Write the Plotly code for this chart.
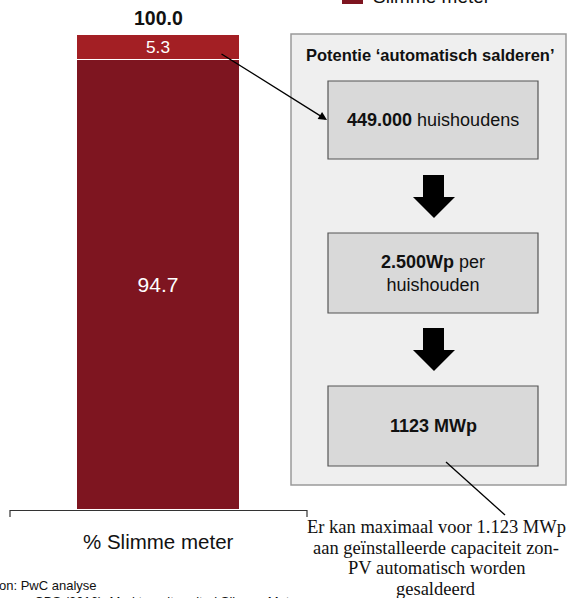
import plotly.graph_objects as go

W, H = 568, 598

# ---- data ----
categories = ["% Slimme meter"]
without_smart = [94.7]
with_smart = [5.3]
total = [100.0]
flow_steps = ["<b>449.000</b> huishoudens", "<b>2.500Wp</b> per<br>huishouden", "<b>1123 MWp</b>"]
note_lines = ["Er kan maximaal voor 1.123 MWp", "aan geïnstalleerde capaciteit zon-",
              "PV automatisch worden", "gesaldeerd"]

DARK = "#7E1520"
LIGHT = "#A31F24"
SANS = "Liberation Sans, Arial, sans-serif"
SERIF = "Liberation Serif, Times New Roman, serif"


def px(x):
    return x / W


def py(y):
    return 1 - y / H


fig = go.Figure()
fig.add_trace(go.Bar(x=categories, y=without_smart, marker=dict(color=DARK, line=dict(color="white", width=1)),
                     width=0.552, text=[f"{v:.1f}" for v in without_smart], textposition="inside",
                     insidetextanchor="middle", textfont=dict(color="white", size=21, family=SANS),
                     hoverinfo="skip", showlegend=False))
fig.add_trace(go.Bar(x=categories, y=with_smart, marker=dict(color=LIGHT, line=dict(color="white", width=1)),
                     width=0.552, text=[f"{v:.1f}" for v in with_smart], textposition="inside",
                     insidetextanchor="middle", textfont=dict(color="white", size=20, family=SANS),
                     hoverinfo="skip", showlegend=False))

shapes = []
annotations = []

# total label above the bar
for c, t in zip(categories, total):
    annotations.append(dict(xref="x", yref="y", x=c, y=t, text=f"<b>{t:.1f}</b>", showarrow=False,
                            yshift=17, font=dict(size=19.5, family=SANS, color="#111"),
                            xanchor="center", yanchor="middle"))

# axis end ticks
for xx in (10, 307):
    shapes.append(dict(type="line", xref="paper", yref="paper", x0=px(xx), x1=px(xx), y0=py(510), y1=py(517),
                       line=dict(color="#333", width=1.2)))

# category label
annotations.append(dict(xref="paper", yref="paper", x=px(158), y=py(541), text=categories[0], showarrow=False,
                        font=dict(size=20.5, family=SANS, color="#111"), xanchor="center", yanchor="middle"))

# legend (cut off at top)
shapes.append(dict(type="rect", xref="paper", yref="paper", x0=px(342), x1=px(363), y0=py(4), y1=py(-10),
                   fillcolor=DARK, line=dict(width=0)))
annotations.append(dict(xref="paper", yref="paper", x=px(371), y=py(-4), text="Slimme meter", showarrow=False,
                        font=dict(size=19, family=SANS, color="#111"), xanchor="left", yanchor="middle"))

# big panel
shapes.append(dict(type="rect", xref="paper", yref="paper", x0=px(291), x1=px(566), y0=py(485), y1=py(34),
                   fillcolor="#EFEFEF", line=dict(color="#9A9A9A", width=1.5), layer="below"))
annotations.append(dict(xref="paper", yref="paper", x=px(430), y=py(55),
                        text="<b>Potentie ‘automatisch salderen’</b>", showarrow=False,
                        font=dict(size=16.5, family=SANS, color="#111"), xanchor="center", yanchor="middle"))

# boxes
boxes = [(81, 159), (233, 313), (386, 466)]
for (y0, y1), label in zip(boxes, flow_steps):
    shapes.append(dict(type="rect", xref="paper", yref="paper", x0=px(328), x1=px(538), y0=py(y1), y1=py(y0),
                       fillcolor="#D9D9D9", line=dict(color="#555", width=1.2)))
    annotations.append(dict(xref="paper", yref="paper", x=px(433), y=py((y0 + y1) / 2), text=label,
                            showarrow=False, font=dict(size=18, family=SANS, color="#111"),
                            xanchor="center", yanchor="middle"))

# down arrows
for top in (175, 328):
    pts = [(423, top), (444, top), (444, top + 22), (455, top + 22), (434, top + 43), (413, top + 22), (423, top + 22)]
    path = "M " + " L ".join(f"{px(x):.5f},{py(y):.5f}" for x, y in pts) + " Z"
    shapes.append(dict(type="path", xref="paper", yref="paper", path=path, fillcolor="black",
                       line=dict(color="black", width=0)))

# arrow from bar to first box
annotations.append(dict(xref="paper", yref="paper", x=px(327), y=py(120), ax=220 - 327, ay=53 - 120,
                        axref="pixel", ayref="pixel", text="", showarrow=True, arrowhead=2, arrowsize=1.3,
                        arrowwidth=1.3, arrowcolor="black"))

# line from last box to note
shapes.append(dict(type="line", xref="paper", yref="paper", x0=px(446), y0=py(462), x1=px(505), y1=py(515),
                   line=dict(color="black", width=1.3)))

# note text
for i, line in enumerate(note_lines):
    annotations.append(dict(xref="paper", yref="paper", x=px(436), y=py(527 + i * 20.7), text=line,
                            showarrow=False, font=dict(size=18.5, family=SERIF, color="#111"),
                            xanchor="center", yanchor="middle"))

# source text (cut off at left/bottom)
annotations.append(dict(xref="paper", yref="paper", x=px(-16), y=py(585), text="Bron: PwC analyse",
                        showarrow=False, font=dict(size=13, family=SANS, color="#111"),
                        xanchor="left", yanchor="middle"))
annotations.append(dict(xref="paper", yref="paper", x=px(-24), y=py(601),
                        text="Bronnen: CBS (2016), Marktmonitor uitrol Slimme Meter", showarrow=False,
                        font=dict(size=13, family=SANS, color="#111"), xanchor="left", yanchor="middle"))

fig.update_layout(
    width=W, height=H, margin=dict(l=0, r=0, t=0, b=0),
    paper_bgcolor="white", plot_bgcolor="rgba(0,0,0,0)",
    barmode="stack", bargap=0,
    xaxis=dict(domain=[px(10), px(307)], range=[-0.5, 0.5], showline=True, linecolor="#333", linewidth=1.2,
               showticklabels=False, ticks="", showgrid=False, zeroline=False, fixedrange=True),
    yaxis=dict(domain=[py(510), py(35)], range=[0, 100], visible=False, showgrid=False, fixedrange=True),
    shapes=shapes, annotations=annotations, showlegend=False,
)

fig.write_html("out.html", config={"displayModeBar": False},
               post_script="document.body.style.margin='0';document.body.style.overflow='hidden';")
